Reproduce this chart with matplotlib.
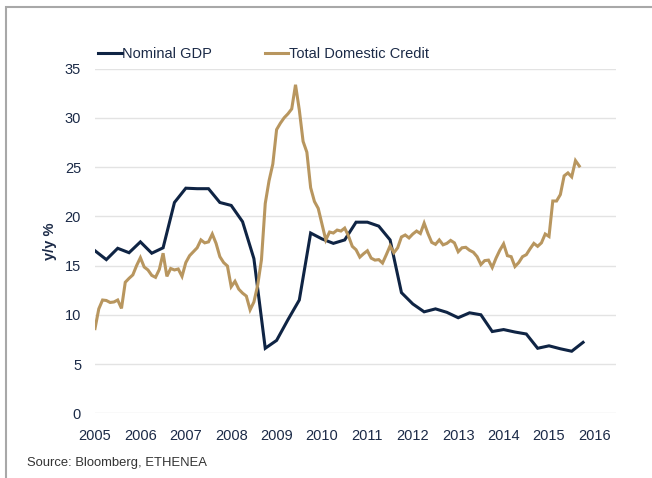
import numpy as np
import matplotlib
matplotlib.use("Agg")
import matplotlib.pyplot as plt
from matplotlib.patches import Rectangle

# Nominal GDP, y/y %, quarterly from 2005 Q1
gdp = [16.5, 15.6, 16.75, 16.3, 17.4, 16.25, 16.8, 21.4, 22.85, 22.8, 22.8,
       21.4, 21.1, 19.45, 15.7, 6.6, 7.4, 9.5, 11.5, 18.3, 17.7, 17.25, 17.6,
       19.4, 19.4, 19.0, 17.6, 12.25, 11.1, 10.3, 10.6, 10.25, 9.7, 10.2, 10.0,
       8.3, 8.5, 8.25, 8.05, 6.6, 6.85, 6.55, 6.3, 7.2]

# Total domestic credit, y/y %, monthly from Jan 2005
credit = [8.6, 10.6, 11.5, 11.45, 11.25, 11.3, 11.5, 10.65, 13.3, 13.7,
          14.05, 15.0, 15.8, 14.85, 14.55, 14.0, 13.8, 14.6, 16.25, 13.9,
          14.7, 14.55, 14.65, 13.9, 15.3, 16.0, 16.4, 16.8, 17.6, 17.3,
          17.4, 18.2, 17.25, 15.9, 15.3, 14.95, 12.85, 13.4, 12.6, 12.2,
          11.9, 10.5, 11.3, 13.0, 15.6, 21.3, 23.6, 25.3, 28.8, 29.45,
          30.0, 30.4, 30.9, 33.35, 30.8, 27.6, 26.5, 22.9, 21.5, 20.8,
          19.2, 17.6, 18.4, 18.3, 18.6, 18.5, 18.8, 18.0, 16.95, 16.6,
          15.85, 16.2, 16.5, 15.75, 15.55, 15.6, 15.25, 16.1, 17.0, 16.3,
          16.8, 17.9, 18.1, 17.8, 18.2, 18.5, 18.25, 19.3, 18.25, 17.35,
          17.15, 17.6, 17.1, 17.25, 17.55, 17.3, 16.4, 16.8, 16.85, 16.55,
          16.35, 15.9, 15.1, 15.5, 15.55, 14.8, 15.75, 16.55, 17.2, 16.0,
          15.9, 14.9, 15.3, 15.9, 16.1, 16.7, 17.25, 16.95, 17.3, 18.2,
          17.95, 21.55, 21.55, 22.2, 24.1, 24.4, 24.0, 25.65, 25.1]

years = list(range(2005, 2017))
y_ticks = [0, 5, 10, 15, 20, 25, 30, 35]

gdp_t = 2005 + np.arange(len(gdp)) / 4.0
credit_t = 2005 + np.arange(len(credit)) / 12.0

NAVY = "#0f2444"
GOLD = "#b8965f"
TEXT = "#1b2a47"

plt.rcParams["font.family"] = ["Liberation Sans", "DejaVu Sans"]

fig = plt.figure(figsize=(6.52, 4.78), dpi=100)
ax = fig.add_axes([95 / 652, 1 - 413.3 / 478, (616 - 95) / 652, (413.3 - 68.5) / 478])

ax.plot(gdp_t, gdp, color=NAVY, lw=2.2, solid_joinstyle="miter", label="Nominal GDP", zorder=3)
ax.plot(credit_t, credit, color=GOLD, lw=2.2, solid_joinstyle="miter", label="Total Domestic Credit", zorder=4)

ax.set_xlim(2005, 2005 + (616 - 95) / 45.4)
ax.set_ylim(0, 35)
ax.set_yticks(y_ticks)
ax.set_xticks(years)
ax.set_xticklabels([str(y) for y in years])
ax.grid(axis="y", color="#e3e3e3", lw=1.0)
ax.set_axisbelow(True)
for s in ax.spines.values():
    s.set_visible(False)
ax.tick_params(length=0, labelsize=10.5, labelcolor=TEXT)
ax.tick_params(axis="x", pad=11)
ax.tick_params(axis="y", pad=10)

ax.set_ylabel("y/y %", fontsize=10.5, fontweight="bold", color=TEXT)
ax.yaxis.set_label_coords(-(95 - 57) / 521, 0.5)

ax.legend(loc="lower left", bbox_to_anchor=(-0.005, 1.005), ncol=2, frameon=False,
          fontsize=10.5, handlelength=1.6, handletextpad=0.05, columnspacing=3.6,
          labelcolor=TEXT, borderaxespad=0)

fig.text(27 / 652, 1 - 463 / 478, "Source: Bloomberg, ETHENEA", fontsize=9.4,
         color="#333333", va="center", ha="left")

fig.patches.append(Rectangle((6 / 652, -0.2), 1.2, 1.2 - 7 / 478,
                             transform=fig.transFigure, fill=False,
                             edgecolor="#a8a8a8", lw=1.5))

fig.savefig("out.png", dpi=100)
